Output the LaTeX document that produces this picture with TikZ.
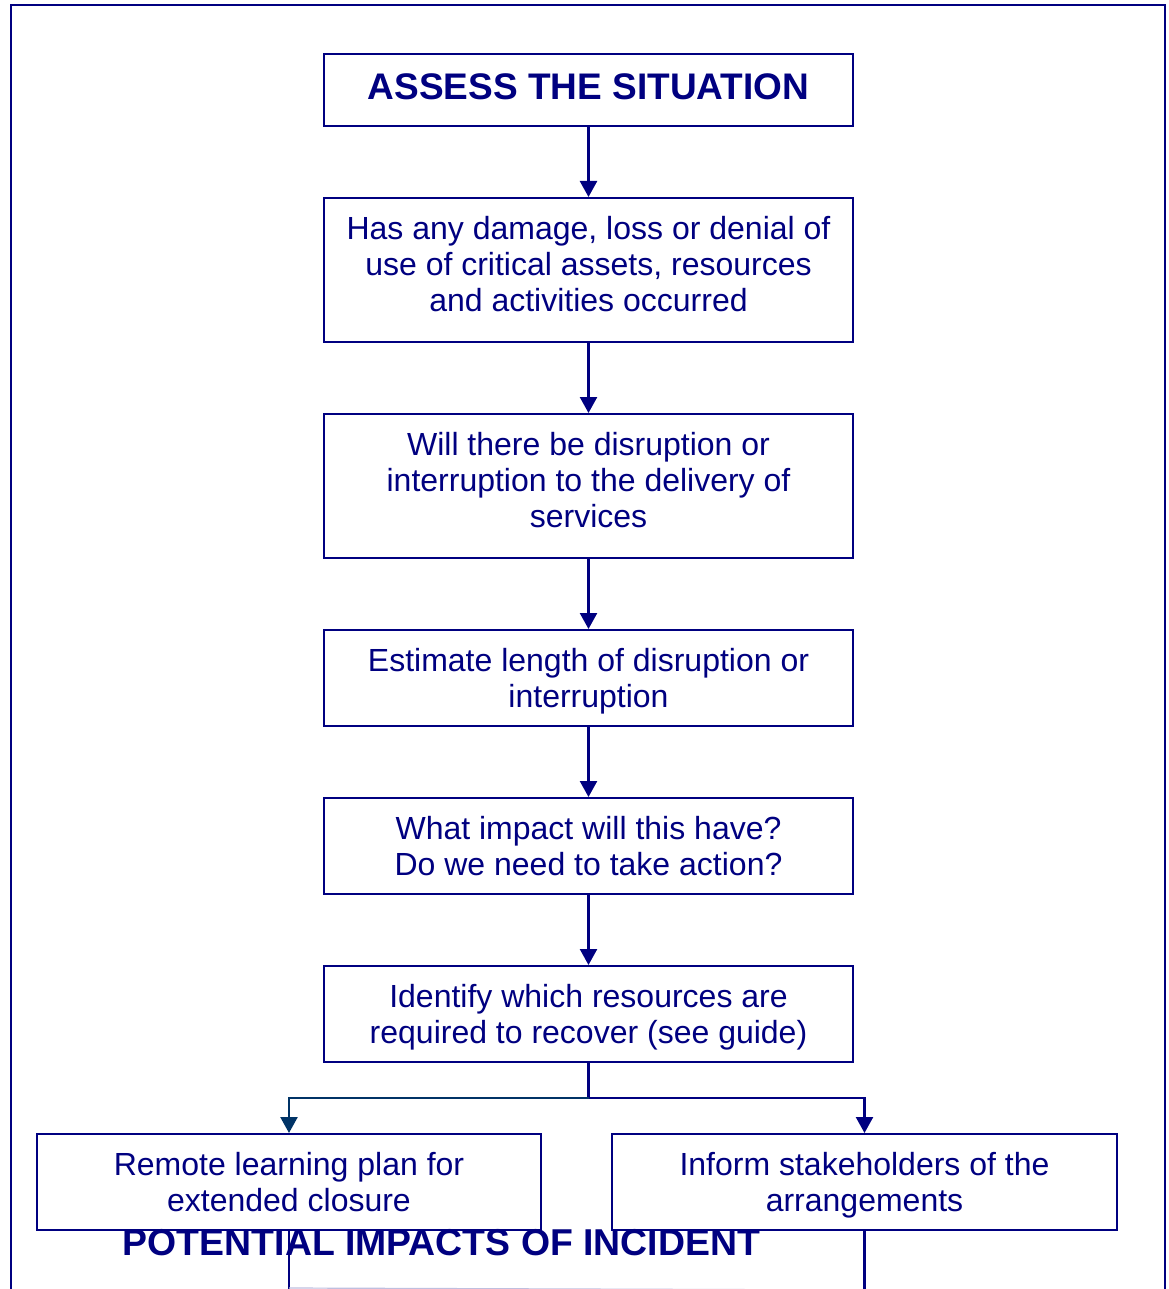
\documentclass[tikz,border=0pt]{standalone}
\usepackage{fontspec}
\setmainfont{Liberation Sans}
\usetikzlibrary{arrows.meta}
\definecolor{navy}{RGB}{0,0,128}
\definecolor{deepteal}{RGB}{0,51,102}
\tikzset{
  box/.style={draw=navy, line width=2pt, rectangle, inner sep=0pt, align=center,
    text=navy, font=\fontsize{32}{36}\selectfont, minimum width=529pt, text depth=0pt},
  headbox/.style={box, font=\bfseries\fontsize{37}{40}\selectfont, text depth=6pt},
  flow/.style={draw=navy, line width=2.4pt, -{Triangle[width=17pt,length=16pt]}},
  link/.style={draw=navy, line width=2.4pt},
  heading/.style={text=navy, font=\bfseries\fontsize{37.4}{40}\selectfont, inner sep=0pt}
}
\begin{document}
\begin{tikzpicture}[x=1pt,y=-1pt]
\useasboundingbox (0,0) rectangle (1168,1289);

% page frame
\draw[navy, line width=2pt] (11,1289) -- (11,5) -- (1164.5,5) -- (1164.5,1289);

% main sequence of steps
\node[headbox, minimum height=72pt] (assess) at (588.5,90) {ASSESS THE SITUATION};
\node[box, minimum height=144pt] (damage) at (588.5,270)
  {Has any damage, loss or denial of\\use of critical assets, resources\\and activities occurred\\[-24pt]\mbox{}};
\node[box, minimum height=144pt] (disrupt) at (588.5,486)
  {Will there be disruption or\\interruption to the delivery of\\services\\[-24pt]\mbox{}};
\node[box, minimum height=96pt] (length) at (588.5,678)
  {Estimate length of disruption or\\interruption};
\node[box, minimum height=96pt] (impact) at (588.5,846)
  {What impact will this have?\\Do we need to take action?};
\node[box, minimum height=96pt] (resources) at (588.5,1014)
  {Identify which resources are\\required to recover (see guide)};

% outcomes
\node[box, minimum width=504pt, minimum height=96pt] (remote) at (289,1182)
  {Remote learning plan for\\extended closure};
\node[box, minimum width=505pt, minimum height=96pt] (inform) at (864.5,1182)
  {Inform stakeholders of the\\arrangements};

% connectors
\draw[flow] (assess) -- (damage);
\draw[flow] (damage) -- (disrupt);
\draw[flow] (disrupt) -- (length);
\draw[flow] (length) -- (impact);
\draw[flow] (impact) -- (resources);

\coordinate (split) at (588.5,1098);
\draw[link] (resources) -- (split);
\draw[flow, draw=deepteal] (split) -| (remote.north);
\draw[flow] (split) -| (inform.north);

% lines continuing below the outcomes
\coordinate (remoteEnd) at (289,1289);
\coordinate (informEnd) at (864.5,1289);
\draw[link] (remote.south) -- (remoteEnd);
\draw[link] (inform.south) -- (informEnd);
\draw[navy!25, line width=1.2pt] (remoteEnd) ++(0,-1) -- ([yshift=-1pt]informEnd);

% section heading
\node[heading] (potential) at (441.5,1243) {POTENTIAL IMPACTS OF INCIDENT};
\end{tikzpicture}
\end{document}
